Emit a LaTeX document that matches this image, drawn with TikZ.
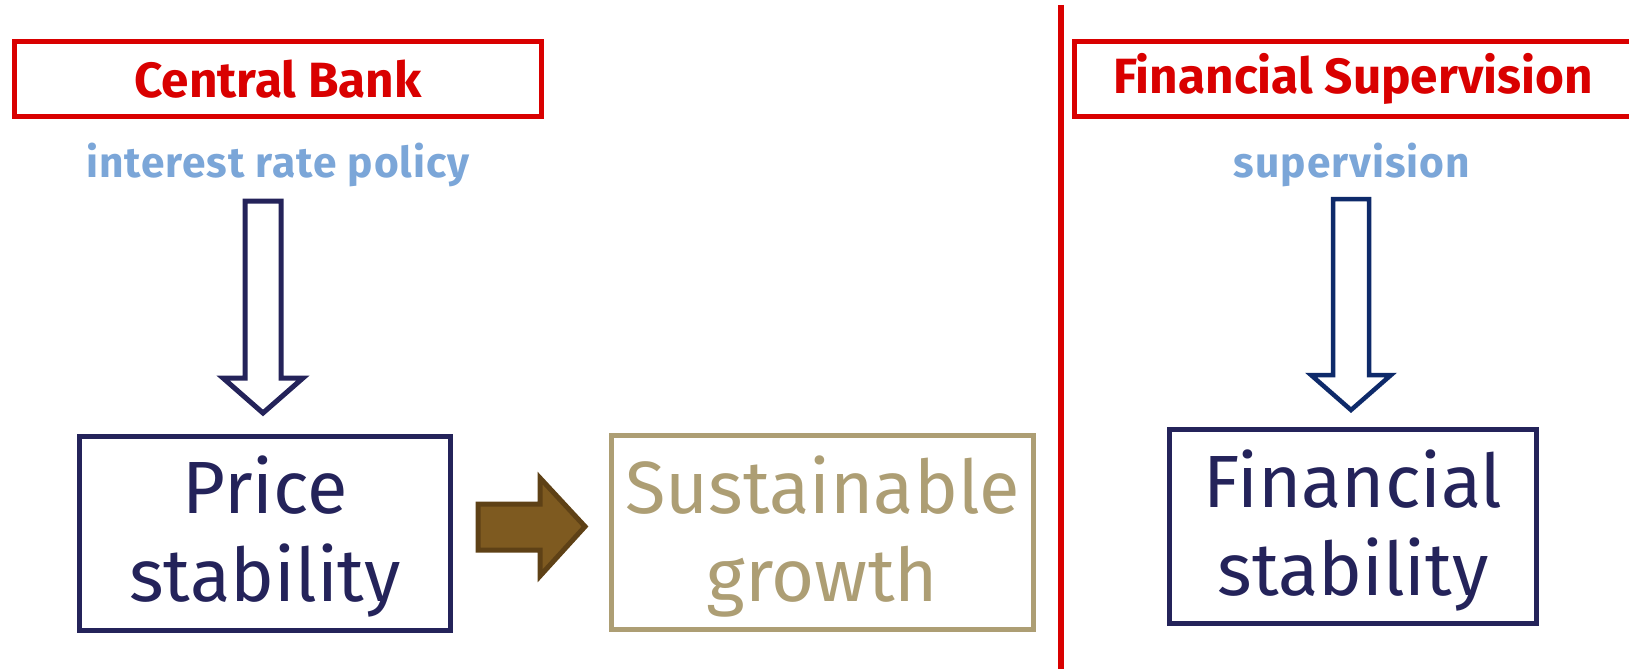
\documentclass[tikz,border=0pt]{standalone}
\usepackage{fontspec}
\setmainfont{Fira Sans}
\usetikzlibrary{calc}
\definecolor{cbred}{HTML}{D90000}
\definecolor{policyblue}{HTML}{7BA6D8}
\definecolor{navy}{HTML}{24235A}
\definecolor{supnavy}{HTML}{0E2A6A}
\definecolor{tan}{HTML}{AD9E74}
\definecolor{brownfill}{HTML}{7E5A20}
\definecolor{brownedge}{HTML}{5E4116}

% vertical block arrow from a top coordinate down to a tip coordinate
\newcommand\downblock[3]{%
  \draw[#3] let \p1=(#1), \p2=(#2) in
    (\x1-18pt,\y1) -- (\x1+18pt,\y1) -- (\x1+18pt,\y2+35pt) -- (\x1+40pt,\y2+35pt)
    -- (\x2,\y2) -- (\x1-40pt,\y2+35pt) -- (\x1-18pt,\y2+35pt) -- cycle;}
% horizontal block arrow from a tail coordinate to a tip coordinate
\newcommand\rightblock[3]{%
  \draw[#3] let \p1=(#1), \p2=(#2) in
    (\x1,\y1+23pt) -- (\x2-45pt,\y1+23pt) -- (\x2-45pt,\y1+49pt) -- (\x2,\y2)
    -- (\x2-45pt,\y1-49pt) -- (\x2-45pt,\y1-23pt) -- (\x1,\y1-23pt) -- cycle;}
% two-line goal text, lowered a little inside its box
\newcommand\goaltext[2]{\raisebox{-7pt}[\height][\depth]{\begin{tabular}{@{}c@{}}#1\\#2\end{tabular}}}

\begin{document}
\begin{tikzpicture}[x=1pt,y=-1pt,
  headbox/.style={draw=cbred, line width=5pt, text=cbred,
    font=\fontsize{49.5}{52}\selectfont\bfseries,
    minimum height=74pt, inner sep=0pt},
  toolabel/.style={text=policyblue,
    font=\fontsize{42.5}{46}\selectfont\bfseries\addfontfeature{LetterSpace=2.3},
    inner sep=0pt},
  goalbox/.style={draw, line width=5pt, inner sep=0pt,
    font=\fontsize{74}{88}\selectfont, minimum height=194pt},
  blockdown/.style={draw=navy, fill=white, line width=5pt, miter limit=10},
  blockright/.style={draw=brownedge, fill=brownfill, line width=5pt, miter limit=10}]
\useasboundingbox (0,0) rectangle (1629,669);

% divider between monetary policy and supervision
\coordinate (divtop) at (1061,5);
\coordinate (divbot) at (1061,669);
\draw[cbred, line width=6pt] (divtop) -- (divbot);

% institutions
\node[headbox, minimum width=527pt] (cb) at (278,79) {Central Bank};
\node[headbox, minimum width=557pt] (fs) at (1353,79) {Financial Supervision};

% instruments
\node[toolabel] (ir) at (278,165) {interest rate policy};
\node[toolabel] (sup) at (1352,165) {supervision};

% objectives
\node[goalbox, draw=navy, text=navy, minimum width=371pt] (price) at (265,533) {\goaltext{Price}{stability}};
\node[goalbox, draw=tan, text=tan, minimum width=422pt] (sust) at (822.5,532.5) {\goaltext{Sustainable}{growth}};
\node[goalbox, draw=navy, text=navy, minimum width=367pt] (fin) at (1353,526.5) {\goaltext{Financial}{stability}};

% block arrows
\coordinate (a1top) at (263,201);
\coordinate (a1tip) at (263,413);
\downblock{a1top}{a1tip}{blockdown}
\coordinate (a2top) at (1351,199);
\coordinate (a2tip) at (1351,410);
\downblock{a2top}{a2tip}{blockdown, draw=supnavy, line width=4.5pt}
\coordinate (a3tail) at ($(price.east)+(25,-6)$);
\coordinate (a3tip) at ($(sust.west)+(-24,-6)$);
\rightblock{a3tail}{a3tip}{blockright}
\end{tikzpicture}
\end{document}
